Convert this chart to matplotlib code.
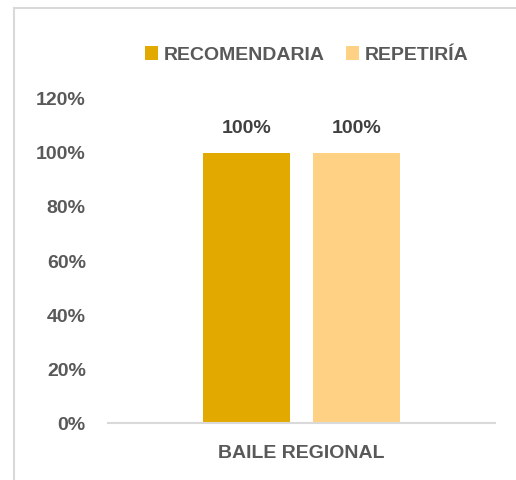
import matplotlib.pyplot as plt
from matplotlib.patches import Rectangle
from matplotlib.ticker import FuncFormatter

# data
category = 'BAILE REGIONAL'
series = ['RECOMENDARIA', 'REPETIRÍA']
values = [1.0, 1.0]
colors = ['#E2AA00', '#FFD185']

plt.rcParams['font.family'] = ['Liberation Sans', 'DejaVu Sans']
plt.rcParams['font.weight'] = 'bold'
FS = 14

W, H = 516, 480
fig = plt.figure(figsize=(W / 100, H / 100), dpi=100)

# chart frame (only left and top edges show)
fig.patches.append(Rectangle((14 / W, -0.1), 1.2, (480 - 8) / H + 0.1,
                             transform=fig.transFigure, fill=False,
                             edgecolor='#D9D9D9', linewidth=1.5))

ax = fig.add_axes([108 / W, (480 - 423) / H, (495 - 108) / W, (423 - 99) / H])

bw = 87 / 387
offs = [-55 / 387, 55 / 387]
for v, o, c, name in zip(values, offs, colors, series):
    ax.bar(o, v, width=bw, color=c, label=name)
    ax.text(o, v + 0.06, '{:.0f}%'.format(v * 100), ha='center', va='bottom',
            fontsize=FS, fontweight='bold', color='#404040')

ax.set_xlim(-0.5, 0.5)
ax.set_ylim(0, 1.2)
ax.set_yticks([0, 0.2, 0.4, 0.6, 0.8, 1.0, 1.2])
ax.yaxis.set_major_formatter(FuncFormatter(lambda y, p: '%d%%' % round(y * 100)))
ax.set_xticks([0])
ax.set_xticklabels([category])
ax.tick_params(axis='both', length=0, labelsize=FS, labelcolor='#595959')
ax.tick_params(axis='x', pad=16)
ax.tick_params(axis='y', pad=16)
for s in ['top', 'right', 'left']:
    ax.spines[s].set_visible(False)
ax.spines['bottom'].set_color('#D9D9D9')
ax.spines['bottom'].set_linewidth(1.5)

leg = ax.legend(loc='center', bbox_to_anchor=(307 / W, (480 - 55) / H),
                bbox_transform=fig.transFigure, ncol=2, frameon=False,
                fontsize=FS, handlelength=0.67, handleheight=0.67,
                handletextpad=0.3, columnspacing=1.1)
for t in leg.get_texts():
    t.set_color('#595959')

fig.savefig('out.png', dpi=100)
